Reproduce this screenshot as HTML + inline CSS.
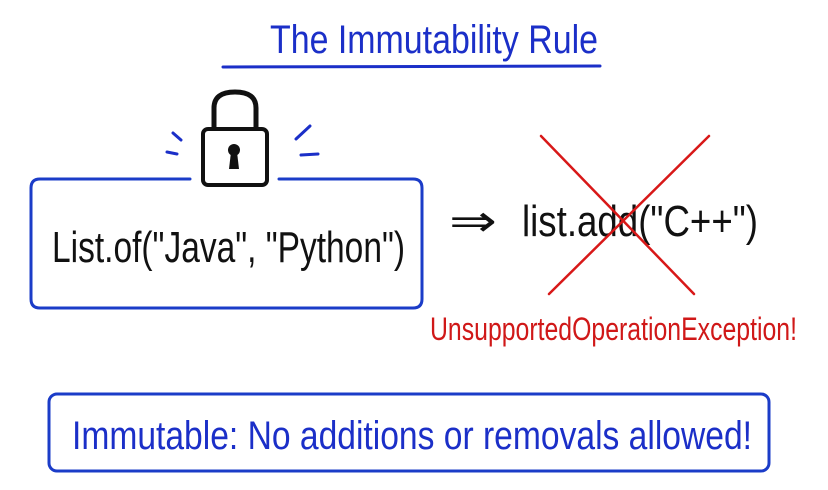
<!DOCTYPE html>
<html><head><meta charset="utf-8"><style>
html,body{margin:0;padding:0;background:#fff;}
svg{display:block;}
text{font-family:"Liberation Sans Narrow","Liberation Sans",sans-serif;}
</style></head><body>
<svg width="828" height="490" viewBox="0 0 828 490" xmlns="http://www.w3.org/2000/svg">
<rect width="828" height="490" fill="#fff"/>
<text x="270" y="53" font-size="40" fill="#1b2fc8" textLength="328" lengthAdjust="spacingAndGlyphs">The  Immutability  Rule</text>
<path d="M223 67 L600 66" stroke="#1b2fc8" stroke-width="3" fill="none" stroke-linecap="round"/>
<path d="M190 179 H40 Q31 179 31 188 V299 Q31 308 40 308 H413 Q422 308 422 299 V188 Q422 179 413 179 H279" stroke="#1b3cc8" stroke-width="3" fill="none" stroke-linecap="round"/>
<path d="M214 129 V108 Q214 92 235 92 Q256 92 256 108 V129" stroke="#111" stroke-width="5" fill="none"/>
<rect x="203" y="129" width="64" height="56" rx="5" fill="#fff" stroke="#111" stroke-width="4"/>
<circle cx="234" cy="150" r="6" fill="#111"/>
<path d="M231 152 L229 169 H239 L237 152 Z" fill="#111"/>
<g stroke="#1b2fc8" stroke-width="3" stroke-linecap="round">
<path d="M173 133 L181 140"/><path d="M167 152 L177 154"/>
<path d="M296 139 L310 126"/><path d="M301 155 L318 154"/>
</g>
<text x="52" y="262" font-size="44" fill="#111" textLength="353" lengthAdjust="spacingAndGlyphs">List.of("Java", "Python")</text>
<text x="449" y="236" font-size="44" fill="#111" textLength="48" lengthAdjust="spacingAndGlyphs">⇒</text>
<text x="522" y="236" font-size="44" fill="#111" textLength="236" lengthAdjust="spacingAndGlyphs">list.add("C++")</text>
<g stroke="#d81818" stroke-width="2.5" stroke-linecap="round">
<path d="M541 136 L694 294"/><path d="M709 136 L549 294"/>
</g>
<text x="430" y="340" font-size="32" fill="#d01818" textLength="367" lengthAdjust="spacingAndGlyphs">UnsupportedOperationException!</text>
<rect x="49" y="394" width="720" height="77" rx="8" fill="none" stroke="#1b3cc8" stroke-width="3"/>
<text x="72" y="449" font-size="40" fill="#1b2fc8" textLength="680" lengthAdjust="spacingAndGlyphs">Immutable:  No  additions  or  removals  allowed!</text>
</svg>
</body></html>
